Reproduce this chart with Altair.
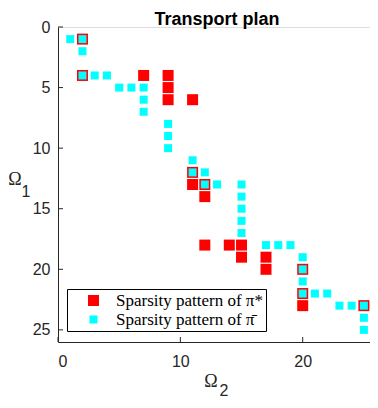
import altair as alt
import pandas as pd

# Sparsity pattern of pi* (row index i on Omega_1, column index j on Omega_2)
red_i = [1, 4, 4, 4, 5, 6, 6, 12, 13, 13, 14, 18, 18, 18, 19, 19, 20, 20, 22, 23, 23]
red_j = [2, 2, 7, 9, 9, 9, 11, 11, 11, 12, 12, 12, 14, 15, 15, 17, 17, 20, 20, 20, 25]

# Sparsity pattern of pi-bar
cyan_i = [1, 1, 2, 4, 4, 4, 5, 5, 5, 6, 7, 8, 9, 10, 11, 12, 12, 13, 13, 13, 14, 15, 16,
          17, 18, 18, 18, 19, 20, 21, 22, 22, 22, 23, 23, 23, 24, 25]
cyan_j = [1, 2, 2, 2, 3, 4, 5, 6, 7, 7, 7, 9, 9, 9, 11, 11, 12, 12, 13, 15, 15, 15, 15,
          15, 17, 18, 19, 20, 20, 20, 20, 21, 22, 23, 24, 25, 25, 25]

series = ["Sparsity pattern of \u03c0*", "Sparsity pattern of \u03c0\u0304"]
colors = ["#ff0000", "#00ffff"]
sizes = [121, 64]

x_ticks = [0, 10, 20]
y_ticks = [0, 5, 10, 15, 20, 25]

W, H = 312, 315

df = pd.DataFrame({
    "i": red_i + cyan_i,
    "j": red_j + cyan_j,
    "s": [series[0]] * len(red_i) + [series[1]] * len(cyan_i),
    "o": [0] * len(red_i) + [1] * len(cyan_i),
})

xs = alt.Scale(domain=[0, 25.5], nice=False, zero=False)
ys = alt.Scale(domain=[0, 26], nice=False, zero=False, reverse=True)

axis_style = dict(domainColor="#262626", labelColor="#262626", labelFont="Liberation Sans",
                  labelFontSize=16, tickSize=0, grid=False, title=None)

leg = alt.Legend(title=None, orient="none", legendX=9, legendY=262,
                 symbolType="square", labelFont="Liberation Serif",
                 labelFontSize=17, labelColor="black",
                 strokeColor="black", fillColor="white", padding=3,
                 rowPadding=1, symbolOffset=15, labelOffset=14,
                 symbolStrokeWidth=0, labelLimit=400)

points = alt.Chart(df).mark_square(opacity=1, filled=True).encode(
    x=alt.X("j:Q", scale=xs, axis=alt.Axis(values=x_ticks, labelPadding=11, **axis_style)),
    y=alt.Y("i:Q", scale=ys, axis=alt.Axis(values=y_ticks, labelPadding=8, **axis_style)),
    color=alt.Color("s:N", scale=alt.Scale(domain=series, range=colors), legend=leg),
    size=alt.Size("s:N", scale=alt.Scale(domain=series, range=sizes), legend=leg),
    order=alt.Order("o:Q"),
)

yt = alt.Chart(pd.DataFrame({"i": y_ticks})).mark_rule(color="#262626").encode(
    y=alt.Y("i:Q", scale=ys), x=alt.value(0), x2=alt.value(5))
xt = alt.Chart(pd.DataFrame({"j": x_ticks})).mark_rule(color="#262626").encode(
    x=alt.X("j:Q", scale=xs), y=alt.value(H), y2=alt.value(H - 5))

serif_lab = pd.DataFrame({"t": ["\u03a9", "\u03a9"], "px": [153, -43], "py": [360, 158]})
sans_lab = pd.DataFrame({"t": ["2", "1"], "px": [166, -32], "py": [369, 170]})
title_lab = pd.DataFrame({"t": ["Transport plan"], "px": [159], "py": [-2.5]})

omega = alt.Chart(serif_lab).mark_text(
    font="Liberation Serif", fontSize=18, color="#262626", align="center", baseline="alphabetic"
).encode(x=alt.X("px:Q", scale=None), y=alt.Y("py:Q", scale=None), text="t:N")
subs = alt.Chart(sans_lab).mark_text(
    font="Liberation Sans", fontSize=16, color="#262626", align="center", baseline="alphabetic"
).encode(x=alt.X("px:Q", scale=None), y=alt.Y("py:Q", scale=None), text="t:N")
title = alt.Chart(title_lab).mark_text(
    font="Liberation Sans", fontSize=18, fontWeight="bold", color="black",
    align="center", baseline="alphabetic"
).encode(x=alt.X("px:Q", scale=None), y=alt.Y("py:Q", scale=None), text="t:N")

chart = alt.layer(points, yt, xt, omega, subs, title).properties(
    width=W, height=H,
    padding={"left": 50, "top": 19, "right": 0, "bottom": 58},
    autosize=alt.AutoSizeParams(type="none"),
).configure_view(stroke=None).configure(background="white")

chart.save("out.html", embed_options={"renderer": "svg", "actions": False})
